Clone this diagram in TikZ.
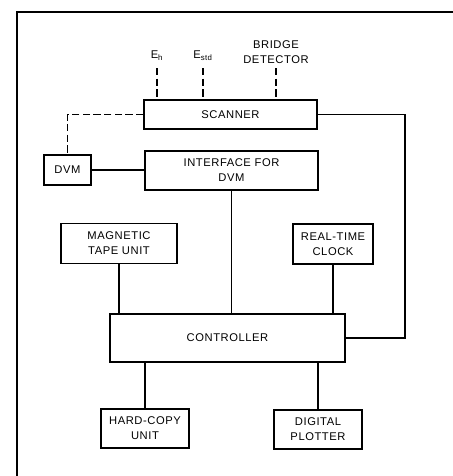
\documentclass[tikz,border=0pt]{standalone}
\usepackage{fontspec}
\setmainfont{Liberation Sans}[LetterSpace=5]
\usetikzlibrary{positioning,calc}

\begin{document}
\begin{tikzpicture}[x=0.75pt, y=-0.75pt, font=\fontsize{8.4}{11.2}\selectfont,
	   bx/.style={draw, line width=0.9pt, inner sep=0pt, align=center},
	   lbl/.style={inner sep=0pt, align=center},
	   dsh/.style={line width=1.4pt, dash pattern=on 5.5pt off 2.5pt},
	   ln/.style={line width=0.9pt}]
	  \useasboundingbox (0,0) rectangle (453,476);
	  \draw[line width=1.5pt] (453,12) -- (17,12) -- (17,476);
	  % blocks
	  \node[bx, minimum width=129.75pt, minimum height=21.75pt] (scan) at (230.5,114.5) {SCANNER};
	  \node[bx, minimum width=35.25pt, minimum height=22.5pt] (dvm) at (67.5,170) {DVM};
	  \node[bx, minimum width=129.75pt, minimum height=29.25pt] (iface) at (231.5,170.5) {INTERFACE FOR\\ DVM};
	  \node[bx, minimum width=87pt, minimum height=30pt] (tape) at (119,243.5) {MAGNETIC\\ TAPE UNIT};
	  \node[bx, minimum width=60pt, minimum height=30pt] (clock) at (333,244) {REAL-TIME\\ CLOCK};
	  \node[bx, minimum width=176.25pt, minimum height=36pt] (ctrl) at (227.5,338) {CONTROLLER};
	  \node[bx, minimum width=66pt, minimum height=29.25pt] (copy) at (145,428.5) {HARD-COPY\\ UNIT};
	  \node[bx, minimum width=66pt, minimum height=29.25pt] (plot) at (318,429.5) {DIGITAL\\ PLOTTER};
	  % inputs to scanner
	  \node[lbl, anchor=base] (eh) at (157,58) {E\textsubscript{h}};
	  \node[lbl, anchor=base] (estd) at (203,58) {E\textsubscript{std}};
	  \node[lbl, anchor=base] (bridge) at (276,63) {BRIDGE\\ DETECTOR};
	  \draw[dsh] (eh.south |- 0,68) -- (eh.south |- scan.north);
	  \draw[dsh] (estd.south |- 0,68) -- (estd.south |- scan.north);
	  \draw[dsh] (bridge.south |- 0,68) -- (bridge.south |- scan.north);
	  \draw[dsh] (scan.west) -| (dvm.north);
	  % links
	  \coordinate (rt) at (405,0);
	  \draw[ln] (dvm) -- (dvm -| iface.west);
	  \draw[ln] (iface.south) -- (iface.south |- ctrl.north);
	  \draw[ln] (tape.south) -- (tape.south |- ctrl.north);
	  \draw[ln] (clock.south) -- (clock.south |- ctrl.north);
	  \draw[ln] (scan.east) -- (scan.east -| rt) -- (rt |- ctrl.east) -- (ctrl.east);
	  \draw[ln] (ctrl.south -| copy) -- (copy.north);
	  \draw[ln] (ctrl.south -| plot) -- (plot.north);
	\end{tikzpicture}
\end{document}
